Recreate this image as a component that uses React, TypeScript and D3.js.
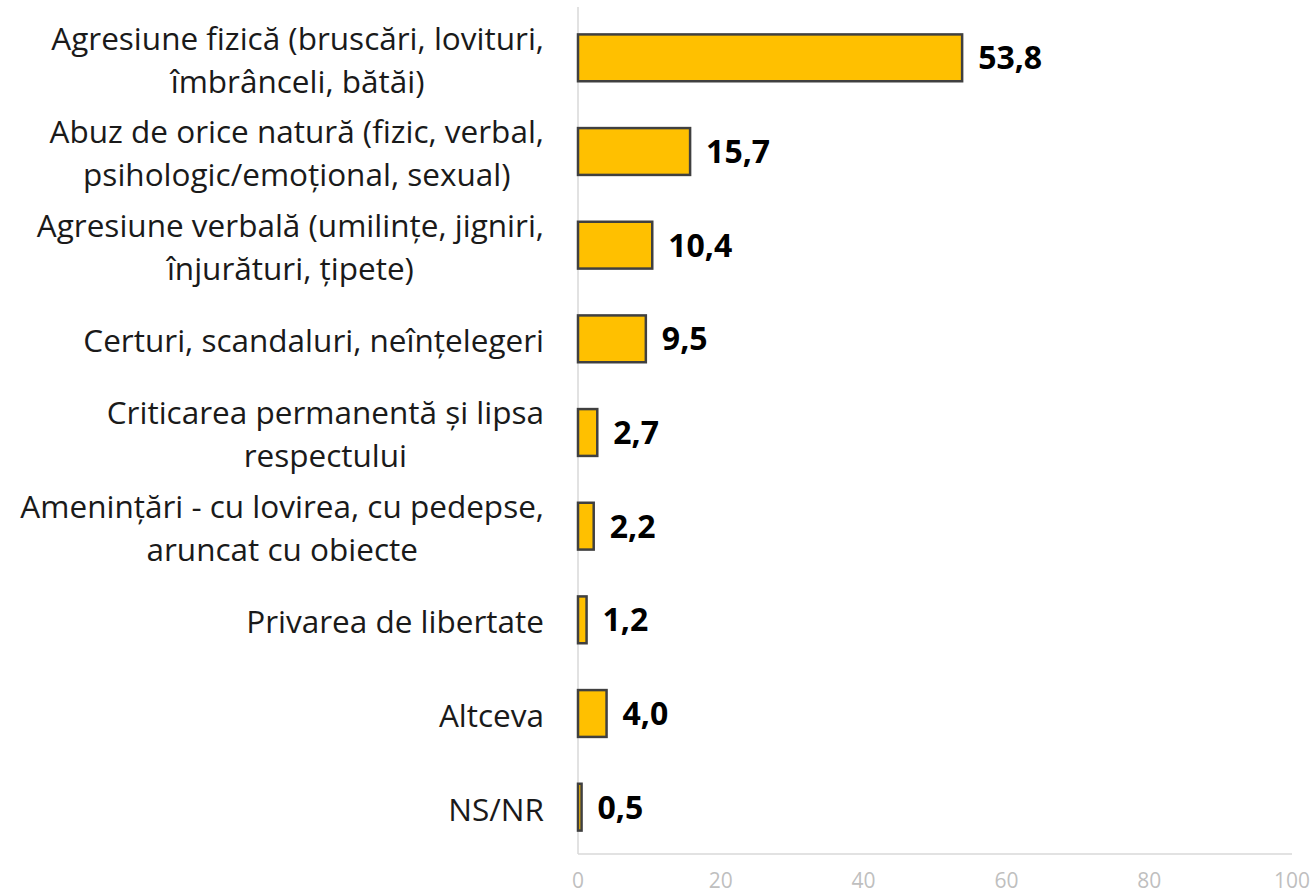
import React, { useMemo } from "react";
import * as d3 from "d3";

const categories: string[][] = [
  ["Agresiune fizică (bruscări, lovituri,", "îmbrânceli, bătăi)"],
  ["Abuz de orice natură (fizic, verbal,", "psihologic/emoțional, sexual)"],
  ["Agresiune verbală (umilințe, jigniri,", "înjurături, țipete)"],
  ["Certuri, scandaluri, neînțelegeri"],
  ["Criticarea permanentă și lipsa", "respectului"],
  ["Amenințări - cu lovirea, cu pedepse,", "aruncat cu obiecte"],
  ["Privarea de libertate"],
  ["Altceva"],
  ["NS/NR"],
];
const values: number[] = [53.8, 15.7, 10.4, 9.5, 2.7, 2.2, 1.2, 4.0, 0.5];
const ticks: number[] = [0, 20, 40, 60, 80, 100];

const W = 1314;
const H = 893;
const margin = { left: 578, right: 22, top: 11, bottom: 39 };
const labelSize = 31.5;
const labelFont = `${labelSize}px 'Open Sans'`;

export default function App() {
  const x = d3.scaleLinear().domain([0, 100]).range([margin.left, W - margin.right]);
  const ids = categories.map((_, i) => String(i));
  const y = d3.scaleBand().domain(ids).range([margin.top, H - margin.bottom]).paddingInner(0.5).paddingOuter(0.25);

  const widths = useMemo(() => {
    const c = document.createElement("canvas").getContext("2d")!;
    c.font = labelFont;
    return categories.map((lines) => Math.max(...lines.map((l) => c.measureText(l).width)));
  }, []);

  const labelRight = 544;
  const lineH = 43;
  const fmt = (v: number) => v.toFixed(1).replace(".", ",");

  return (
    <svg width={W} height={H} style={{ position: "absolute", left: 0, top: 0, background: "#fff" }}>
      <line x1={x(0)} x2={x(0)} y1={margin.top - 4} y2={H - margin.bottom} stroke="#D9D9D9" strokeWidth={1.5} />
      <line x1={x(0)} x2={x(100)} y1={H - margin.bottom} y2={H - margin.bottom} stroke="#D9D9D9" strokeWidth={1.5} />
      {ticks.map((t) => (
        <text key={t} x={x(t)} y={888} textAnchor="middle" fontFamily="'Open Sans'" fontSize={21} fill="#BFBFBF">
          {t}
        </text>
      ))}
      {values.map((v, i) => {
        const yc = y(String(i))! + y.bandwidth() / 2;
        return (
          <g key={i}>
            <rect
              x={x(0)}
              y={y(String(i))}
              width={x(v) - x(0)}
              height={y.bandwidth()}
              fill="#FFC000"
              stroke="#404040"
              strokeWidth={2.5}
            />
            <text x={x(v) + 16} y={yc} dy="0.36em" fontFamily="'Open Sans'" fontWeight="bold" fontSize={32} fill="#000">
              {fmt(v)}
            </text>
          </g>
        );
      })}
      {categories.map((lines, i) => {
        const yc = y(String(i))! + y.bandwidth() / 2 + 2;
        const cx = lines.length > 1 ? labelRight - widths[i] / 2 : labelRight;
        const anchor = lines.length > 1 ? "middle" : "end";
        const start = yc - ((lines.length - 1) * lineH) / 2;
        return (
          <text key={i} fontFamily="'Open Sans'" fontSize={labelSize} fill="#1a1a1a" textAnchor={anchor}>
            {lines.map((l, j) => (
              <tspan key={j} x={cx} y={start + j * lineH} dy="0.36em">
                {l}
              </tspan>
            ))}
          </text>
        );
      })}
    </svg>
  );
}
